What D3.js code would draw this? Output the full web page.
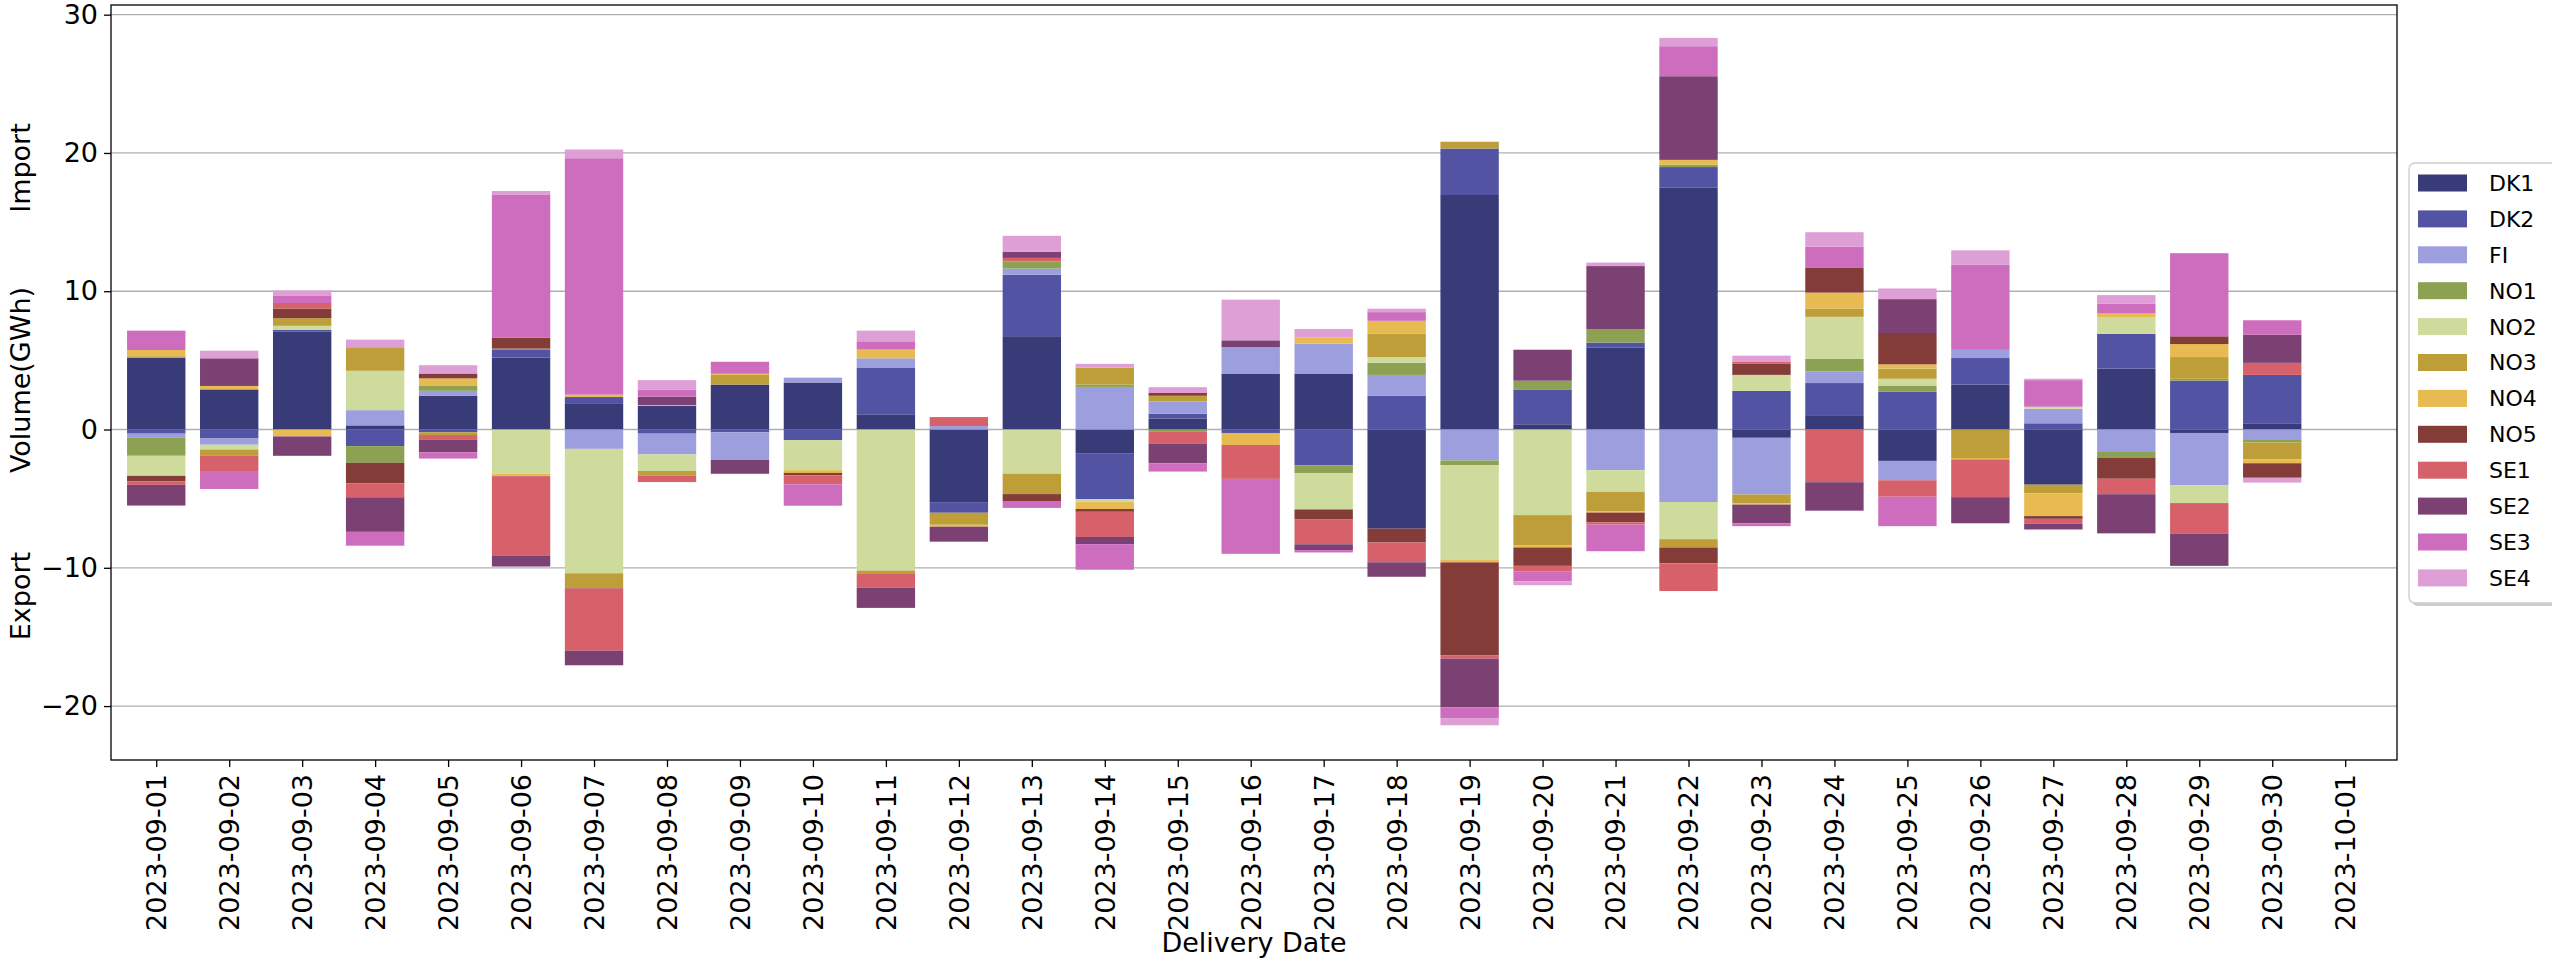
<!DOCTYPE html>
<html>
<head>
<meta charset="utf-8">
<script src="https://cdn.jsdelivr.net/npm/d3@7"></script>
<style>
body { margin: 0; background: #fff; }
text { font-family: "DejaVu Sans", sans-serif; fill: #000; }
</style>
</head>
<body>
<script>
// ---------------------------- DATA ----------------------------//
const days = ["2023-09-01","2023-09-02","2023-09-03","2023-09-04","2023-09-05","2023-09-06","2023-09-07","2023-09-08","2023-09-09","2023-09-10",
  "2023-09-11","2023-09-12","2023-09-13","2023-09-14","2023-09-15","2023-09-16","2023-09-17","2023-09-18","2023-09-19","2023-09-20",
  "2023-09-21","2023-09-22","2023-09-23","2023-09-24","2023-09-25","2023-09-26","2023-09-27","2023-09-28","2023-09-29","2023-09-30"];
const zones = ["DK1","DK2","FI","NO1","NO2","NO3","NO4","NO5","SE1","SE2","SE3","SE4"];
const colors = ["#393b79","#5254a3","#9c9ede","#8ca252","#cedb9c","#bd9e39","#e7ba52","#843c39","#d6616b","#7b4173","#ce6dbd","#de9ed6"];

// volume per zone and day, GWh (positive = import, negative = export)
const DK1 = [5.2,2.9,7.1,0.3,2.45,5.2,1.85,1.7,3.25,3.4,1.1,-5.25,6.75,-1.75,0.8,4.05,4.05,-7.17,16.96,0.38,5.94,17.48,-0.6,0.98,-2.27,3.25,-3.99,4.4,-0.25,0.45];
const DK2 = [-0.3,-0.65,0.1,-1.2,-0.2,0.6,0.5,-0.3,-0.2,-0.77,3.35,-0.77,4.44,-3.3,0.35,-0.25,-2.6,2.45,3.36,2.52,0.35,1.5,2.8,2.38,2.73,1.92,0.45,2.52,3.53,3.5];
const FI  = [-0.3,-0.45,0,1.1,0.35,0,-1.4,-1.5,-2.0,0.35,0.7,0.25,0.45,3.08,0.87,1.9,2.17,1.5,-2.24,0,-2.94,-5.24,-4.1,0.84,-1.4,0.59,1.05,-1.57,-3.78,-0.7];
const NO1 = [-1.3,0,0,-1.2,0.35,0.05,0,0,0,0,0,0,0.52,0.17,-0.17,0,-0.56,0.87,-0.35,0.63,0.98,0.17,0,0.91,0.45,0,0,-0.49,0.14,-0.24];
const NO2 = [-1.45,-0.35,0.3,2.85,0,-3.2,-9.0,-1.2,0,-2.17,-10.2,0,-3.2,-0.2,0,0,-2.62,0.42,-6.82,-6.19,-1.57,-2.69,1.15,3.04,0.49,0,0.15,1.22,-1.29,0];
const NO3 = [0.1,-0.45,0.55,1.7,-0.2,0,-1.05,-0.35,0.7,0,-0.25,-0.87,-1.47,1.22,0.42,0,0,1.68,0.49,-2.17,-1.4,-0.6,-0.63,0.6,0.73,-2.06,-0.63,0,1.57,-1.22];
const NO4 = [0.45,0.25,-0.5,0,0.55,-0.17,0.17,0.07,0.08,-0.2,0.63,-0.14,0,-0.5,0,-0.87,0.45,0.94,-0.2,-0.17,-0.1,0.35,-0.1,1.15,0.31,-0.1,-1.64,0.25,0.94,-0.28];
const NO5 = [-0.4,0,0.7,-1.5,0.35,0.8,-0.05,0,0,-0.17,0,0,-0.5,-0.2,0.2,0,-0.7,-1.0,-6.71,-1.33,-0.7,-1.15,0.8,1.82,2.27,0,-0.2,-1.5,0.56,-1.05];
const SE1 = [-0.25,-1.1,0.4,-1.0,-0.35,-5.77,-4.5,-0.45,0,-0.65,-0.98,0.65,0.25,-1.82,-0.87,-2.45,-1.82,-1.43,-0.25,-0.42,-0.17,-2.0,0.17,-3.81,-1.19,-2.73,-0.35,-1.12,-2.2,0.87];
const SE2 = [-1.5,2.0,-1.4,-2.5,-0.9,-0.77,-1.05,0.6,-1.0,0,-1.47,-1.08,0.45,-0.52,-1.4,0.5,-0.42,-1.05,-3.53,2.24,4.55,6.05,-1.36,-2.06,2.45,-1.89,-0.42,-2.83,-2.34,2.03];
const SE3 = [1.4,-1.3,0.55,-1.0,-0.45,10.35,17.1,0.5,0.87,-1.55,0.6,0,-0.5,-1.85,-0.6,-5.42,-0.17,0.63,-0.77,-0.7,-1.92,2.17,-0.2,1.5,-2.13,6.15,1.92,0.7,6.01,1.05];
const SE4 = [0,0.55,0.35,0.55,0.6,0.25,0.63,0.7,0,0,0.77,0,1.15,0.28,0.42,2.94,0.6,0.25,-0.52,-0.28,0.25,0.6,0.42,1.05,0.77,1.05,0.1,0.63,0,-0.35];

const yTicks = [-20, -10, 0, 10, 20, 30];

//--------------------------- LAYOUT ---------------------------//
const width = 2552, height = 967;
const plot = {left: 111, right: 2397, top: 5, bottom: 760};
const DAY = 864e5;

const series = {DK1, DK2, FI, NO1, NO2, NO3, NO4, NO5, SE1, SE2, SE3, SE4};
const parse = d3.utcParse("%Y-%m-%d");
const rows = days.map(function(d, i) {
  const r = {date: parse(d)};
  zones.forEach(function(z) { r[z] = series[z][i]; });
  return r;
});

const svg = d3.select("body").append("svg")
  .attr("width", width).attr("height", height);

const start = parse(days[0]);
const x = d3.scaleUtc()
  .domain([new Date(start.getTime() - 0.62 * DAY), new Date(start.getTime() + 30.71 * DAY)])
  .range([plot.left, plot.right]);
const y = d3.scaleLinear().domain([-23.9, 30.7]).range([plot.bottom, plot.top]);
const color = d3.scaleOrdinal().domain(zones).range(colors);

//---------------------------- GRID ----------------------------//
svg.append("g").selectAll("line").data(yTicks).enter().append("line")
  .attr("x1", plot.left).attr("x2", plot.right)
  .attr("y1", d => y(d)).attr("y2", d => y(d))
  .attr("stroke", "#b0b0b0").attr("stroke-width", 1.3);

//---------------------------- BARS ----------------------------//
const stacked = d3.stack().keys(zones).offset(d3.stackOffsetDiverging)(rows);
const halfW = function(d) { return x(new Date(d.getTime() + 0.4 * DAY)) - x(d); };

svg.append("g").selectAll("g").data(stacked).enter().append("g")
  .attr("fill", d => color(d.key))
  .selectAll("rect").data(d => d).enter().append("rect")
  .attr("x", d => x(d.data.date) - halfW(d.data.date))
  .attr("width", d => 2 * halfW(d.data.date))
  .attr("y", d => y(Math.max(d[0], d[1])))
  .attr("height", d => Math.abs(y(d[0]) - y(d[1])));

//---------------------------- AXES ----------------------------//
const tickDays = d3.utcDay.range(start, new Date(start.getTime() + 31 * DAY));
const xaxis = d3.axisBottom(x).tickValues(tickDays).tickSize(7).tickPadding(8)
  .tickFormat(d3.utcFormat("%Y-%m-%d"));
const gx = svg.append("g").attr("transform", "translate(0," + plot.bottom + ")").call(xaxis);
gx.select(".domain").remove();
gx.selectAll("line").attr("stroke", "#000").attr("stroke-width", 1.3);
gx.selectAll("text")
  .style("font-size", "27px")
  .attr("text-anchor", "end")
  .attr("transform", "rotate(-90)")
  .attr("x", -14).attr("y", 0).attr("dy", "0.35em");

const yaxis = d3.axisLeft(y).tickValues(yTicks).tickSize(7).tickPadding(6)
  .tickFormat(d => d < 0 ? "\u2212" + Math.abs(d) : d);
const gy = svg.append("g").attr("transform", "translate(" + plot.left + ",0)").call(yaxis);
gy.select(".domain").remove();
gy.selectAll("line").attr("stroke", "#000").attr("stroke-width", 1.3);
gy.selectAll("text").style("font-size", "27px");

// frame
svg.append("rect")
  .attr("x", plot.left).attr("y", plot.top)
  .attr("width", plot.right - plot.left).attr("height", plot.bottom - plot.top)
  .attr("fill", "none").attr("stroke", "#000").attr("stroke-width", 1.3);

//--------------------------- LABELS ---------------------------//
svg.append("text").attr("x", (plot.left + plot.right) / 2).attr("y", 952)
  .attr("text-anchor", "middle").style("font-size", "27px").text("Delivery Date");

const ylab = [["Import", 168], ["Volume(GWh)", 380], ["Export", 596]];
svg.append("g").selectAll("text").data(ylab).enter().append("text")
  .attr("transform", d => "translate(30," + d[1] + ") rotate(-90)")
  .attr("text-anchor", "middle").style("font-size", "27px")
  .text(d => d[0]);

//--------------------------- LEGEND ---------------------------//
const lg = svg.append("g");
lg.append("rect").attr("x", 2412).attr("y", 166).attr("width", 170).attr("height", 440)
  .attr("rx", 6).attr("fill", "#999").attr("opacity", 0.5);
lg.append("rect").attr("x", 2409).attr("y", 163).attr("width", 170).attr("height", 440)
  .attr("rx", 6).attr("fill", "#fff").attr("stroke", "#ccc").attr("stroke-width", 1.3);

const item = lg.selectAll("g.item").data(zones).enter().append("g").attr("class", "item")
  .attr("transform", (d, i) => "translate(2418," + (183 + i * 35.9) + ")");
item.append("rect").attr("x", 0).attr("y", -8.5).attr("width", 49).attr("height", 17)
  .attr("fill", d => color(d));
item.append("text").attr("x", 71).attr("y", 0).attr("dy", "0.36em")
  .style("font-size", "22px").text(d => d);
</script>
</body>
</html>
